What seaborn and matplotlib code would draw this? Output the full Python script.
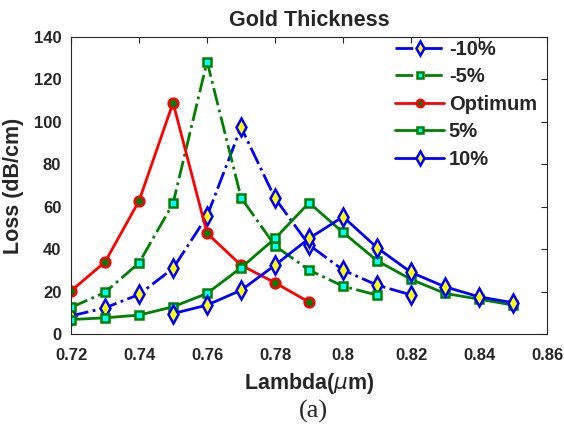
import matplotlib
matplotlib.use("Agg")
import matplotlib.pyplot as plt
import seaborn as sns
import pandas as pd

sns.set_theme(style="white")
plt.rcParams["font.family"] = ["Liberation Sans", "DejaVu Sans"]
plt.rcParams["mathtext.fontset"] = "dejavusans"

# Wavelength grids (um) for each gold-thickness variant
lam_m10 = [0.72, 0.73, 0.74, 0.75, 0.76, 0.77, 0.78, 0.79, 0.80, 0.81, 0.82]
lam_m5 = [0.72, 0.73, 0.74, 0.75, 0.76, 0.77, 0.78, 0.79, 0.80, 0.81]
lam_opt = [0.72, 0.73, 0.74, 0.75, 0.76, 0.77, 0.78, 0.79]
lam_p5 = [0.72, 0.73, 0.74, 0.75, 0.76, 0.77, 0.78, 0.79, 0.80, 0.81, 0.82, 0.83, 0.84, 0.85]
lam_p10 = [0.75, 0.76, 0.77, 0.78, 0.79, 0.80, 0.81, 0.82, 0.83, 0.84, 0.85]

# Confinement loss (dB/cm)
loss_m10 = [8.6, 12.4, 18.7, 31.0, 55.6, 97.4, 64.0, 42.0, 30.2, 23.1, 18.5]
loss_m5 = [12.6, 19.7, 33.6, 61.6, 128.4, 64.3, 41.6, 30.2, 22.6, 18.4]
loss_opt = [20.4, 34.0, 62.8, 109.0, 47.5, 32.5, 24.2, 15.1]
loss_p5 = [6.9, 7.7, 9.0, 12.9, 19.2, 31.3, 45.1, 61.9, 47.9, 34.6, 25.8, 19.2, 16.5, 13.7]
loss_p10 = [9.7, 13.7, 20.7, 32.5, 45.1, 55.3, 40.7, 29.1, 22.3, 17.6, 14.8]

labels = ["-10%", "-5%", "Optimum", "5%", "10%"]

series = [
    (lam_m10, loss_m10, dict(color="#0000ff", ls="-.", marker="d", mfc="#ffff00", mec="#0000ff", ms=9)),
    (lam_m5, loss_m5, dict(color="#008000", ls="-.", marker="s", mfc="#00ffff", mec="#008000", ms=6)),
    (lam_opt, loss_opt, dict(color="#ff0000", ls="-", marker="o", mfc="#008000", mec="#ff0000", ms=7)),
    (lam_p5, loss_p5, dict(color="#008000", ls="-", marker="s", mfc="#00ffff", mec="#008000", ms=6)),
    (lam_p10, loss_p10, dict(color="#0000ff", ls="-", marker="d", mfc="#ffff00", mec="#0000ff", ms=9)),
]

fig = plt.figure(figsize=(5.64, 4.34), dpi=100)
ax = fig.add_axes([0.126, 0.230, 0.844, 0.685])

for (x, y, st), lab in zip(series, labels):
    df = pd.DataFrame({"lam": x, "loss": y})
    sns.lineplot(data=df, x="lam", y="loss", ax=ax, label=lab,
                 color=st["color"], linestyle=st["ls"], linewidth=2.0,
                 marker=st["marker"], markersize=st["ms"],
                 markerfacecolor=st["mfc"], markeredgecolor=st["mec"],
                 markeredgewidth=1.8)

ax.set_xlim(0.72, 0.86)
ax.set_ylim(0, 140)
ax.set_xticks([0.72, 0.74, 0.76, 0.78, 0.80, 0.82, 0.84, 0.86])
ax.set_xticklabels(["0.72", "0.74", "0.76", "0.78", "0.8", "0.82", "0.84", "0.86"])
ax.set_yticks(range(0, 141, 20))

for sp in ax.spines.values():
    sp.set_visible(True)
    sp.set_color("#262626")
    sp.set_linewidth(0.8)
ax.tick_params(direction="in", length=4, width=0.8, color="#262626",
               top=True, right=True, labelsize=12, labelcolor="#262626")
ax.tick_params(axis="x", pad=10)
ax.tick_params(axis="y", pad=7)
for t in ax.get_xticklabels() + ax.get_yticklabels():
    t.set_fontweight("bold")

ax.set_title("Gold Thickness", fontsize=15.5, fontweight="bold", pad=8)
ax.set_xlabel(r"Lambda($\mu$m)", fontsize=15.5, fontweight="bold", color="#262626", labelpad=6)
ax.set_ylabel("Loss (dB/cm)", fontsize=15.5, fontweight="bold", color="#262626", labelpad=7)

leg = ax.legend(loc="upper right", bbox_to_anchor=(0.985, 1.0), frameon=False,
                handlelength=2.4, handletextpad=0.25, labelspacing=0.42,
                borderaxespad=0.0, borderpad=0.15,
                prop={"weight": "bold", "size": 14.5})
for h in leg.legend_handles:
    h.set_markersize(h.get_markersize() * 0.75)

fig.text(0.556, 0.052, "(a)", fontsize=19, family=["Liberation Serif", "DejaVu Serif"],
         ha="center", va="center")

fig.savefig("out.png", dpi=100)
